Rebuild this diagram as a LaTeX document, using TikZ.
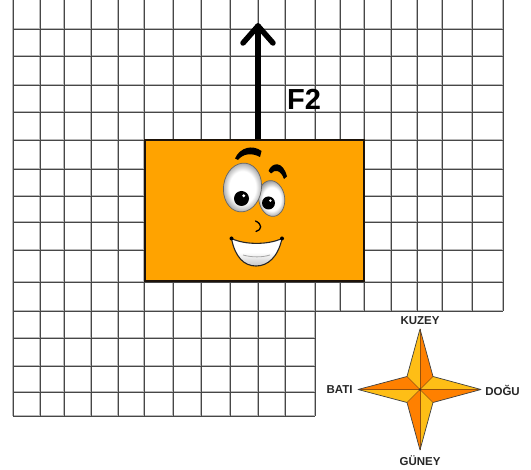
\documentclass[tikz,border=0pt]{standalone}
\usepackage{fontspec}
\setmainfont{Liberation Sans}
\usetikzlibrary{calc}

\definecolor{boxorange}{RGB}{255,163,0}
\definecolor{starlight}{RGB}{254,190,22}
\definecolor{stardark}{RGB}{255,128,0}
\definecolor{starline}{RGB}{150,80,10}

% white eyeball with a grey rim
\pgfdeclareradialshading{eyeshade}{\pgfpoint{0bp}{0bp}}{%
  color(0bp)=(white); color(16bp)=(white); color(25bp)=(black!38); color(50bp)=(black!38)}

\tikzset{
  gridhalo/.style={draw=black!28, line width=2.2pt},
  gridcore/.style={draw=black!72, line width=0.8pt},
  bodybox/.style={draw=black!85!brown, line width=2pt, fill=boxorange, inner sep=0pt},
  forcearrow/.style={draw=black, line width=5.5pt, line cap=round, line join=round},
  forcelabel/.style={font=\fontsize{29}{29}\selectfont\bfseries, inner sep=0pt},
  dirlabel/.style={font=\fontsize{11.5}{11.5}\selectfont\bfseries, text=black!85, inner sep=0pt},
  eyewhite/.style={draw=black!60, line width=0.7pt, shading=eyeshade},
}

\begin{document}
\begin{tikzpicture}[x=1pt, y=-1pt]
\useasboundingbox (0,0) rectangle (531,470);
\fill[white] (0,0) rectangle (531,470);

% square grid: halos first, then the dark cores
\foreach \sty in {gridhalo, gridcore} {
  \foreach \y in {29,56,85,112,140,169,196,222,250,282,311}
    \draw[\sty] (13,\y) -- (503,\y);
  \foreach \y in {338,366,392,416}
    \draw[\sty] (13,\y) -- (315,\y);
  \foreach \x in {13,40,64,91,118,144,173,201,230,258,285,315}
    \draw[\sty] (\x,0) -- (\x,416);
  \foreach \x in {340,364,391,417,442,472,503}
    \draw[\sty] (\x,0) -- (\x,311);
}

% force arrow F2
\coordinate (ftip) at (258,26);
\coordinate (fbase) at (258,150);
\draw[forcearrow] (fbase) -- (ftip);
\draw[forcearrow] ($(ftip)+(-15,17)$) -- (ftip) -- ($(ftip)+(15,17)$);
\node[forcelabel] (f2) at (304,99) {F2};

% the orange body
\node[bodybox, minimum width=219pt, minimum height=141pt] (box) at (254.5,210.5) {};

% face: eyebrows
\fill[black] (235,158.5) .. controls (240,147) and (253,144.5) .. (261.5,151)
  -- (260,157) .. controls (252,152.5) and (243,153.5) .. (238,160) -- cycle;
\fill[black] (268.5,171) .. controls (272,162) and (283,160.5) .. (287,176.5)
  -- (284,179) .. controls (281,170.5) and (275,168.5) .. (271,173.5) -- cycle;

% eyes
\path[eyewhite, rotate around={8:(271.7,198.5)}] (271.7,198.5) ellipse [x radius=13, y radius=18];
\path[eyewhite, rotate around={-8:(242.5,187.5)}] (242.5,187.5) ellipse [x radius=19, y radius=24.5];
\fill[black] (241.5,198.5) circle [radius=7.5];
\fill[black] (268.5,203) circle [radius=6.5];
\fill[white] (243.8,195.8) circle [radius=1.6];
\fill[white] (270.4,200.6) circle [radius=1.4];

% nose
\draw[black, line width=1.3pt, line cap=round] (255.5,221) .. controls (262.5,224) and (262,230) .. (256,231.5);

% smile
\path[draw=black!85, line width=1.1pt, top color=white, bottom color=black!22, middle color=white]
  (231.5,238.5) .. controls (245,245) and (268,245) .. (282,238.5)
  .. controls (278,257) and (268,266) .. (256,266)
  .. controls (244,266) and (235,257) .. cycle;
\draw[black!35, line width=0.8pt] (243,255) .. controls (252,257.5) and (262,257.5) .. (270,255);
\fill[black] (231.5,238.5) circle [radius=2];
\fill[black] (282,238.5) circle [radius=2];

% compass rose
\coordinate (cc) at (420,389.5);
\coordinate (cn) at (420,329);
\coordinate (cs) at (420,450);
\coordinate (cw) at (358,389.5);
\coordinate (ce) at (481,389.5);
\coordinate (cne) at (433,376.5);
\coordinate (cnw) at (407,376.5);
\coordinate (cse) at (433,402.5);
\coordinate (csw) at (407,402.5);
\fill[stardark]  (cc) -- (cn) -- (cne) -- cycle;
\fill[starlight] (cc) -- (cne) -- (ce) -- cycle;
\fill[stardark]  (cc) -- (ce) -- (cse) -- cycle;
\fill[starlight] (cc) -- (cse) -- (cs) -- cycle;
\fill[stardark]  (cc) -- (cs) -- (csw) -- cycle;
\fill[starlight] (cc) -- (csw) -- (cw) -- cycle;
\fill[stardark]  (cc) -- (cw) -- (cnw) -- cycle;
\fill[starlight] (cc) -- (cnw) -- (cn) -- cycle;
\draw[starline, line width=0.6pt] (cn) -- (cs) (cw) -- (ce);
\draw[starline, line width=0.4pt] (cne) -- (csw) (cnw) -- (cse);
\draw[black!75, line width=0.7pt, line join=round]
  (cn) -- (cne) -- (ce) -- (cse) -- (cs) -- (csw) -- (cw) -- (cnw) -- cycle;
\fill[black!80] (cc) circle [radius=1.3];

\node[dirlabel] (kuzey) at (420,321) {KUZEY};
\node[dirlabel] (guney) at (420,461) {GÜNEY};
\node[dirlabel] (bati) at (339.5,389.5) {BATI};
\node[dirlabel] (dogu) at (502.5,390) {DOĞU};
\end{tikzpicture}
\end{document}
